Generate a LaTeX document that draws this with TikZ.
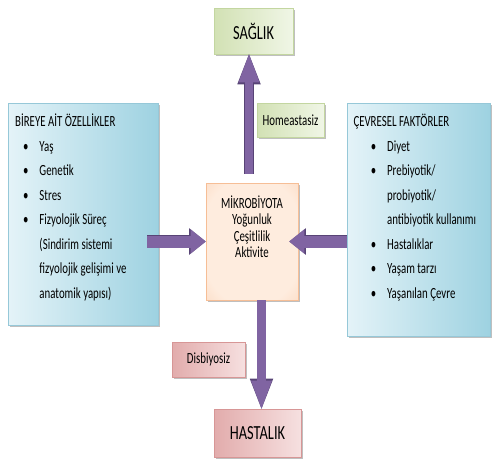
\documentclass[tikz,border=0pt]{standalone}
\usepackage{fontspec}
\setmainfont{Carlito}[FakeStretch=0.7]
\newfontfamily\bigfont{Carlito}[FakeStretch=0.72]
\usetikzlibrary{arrows.meta,shadows}

\definecolor{boxblue}{RGB}{158,210,225}
\definecolor{boxbluelight}{RGB}{228,243,248}
\definecolor{blueline}{RGB}{150,200,216}
\definecolor{boxorange}{RGB}{248,182,138}
\definecolor{boxorangelight}{RGB}{254,236,222}
\definecolor{orangeline}{RGB}{246,190,150}
\definecolor{boxgreen}{RGB}{210,225,180}
\definecolor{boxgreenlight}{RGB}{240,246,230}
\definecolor{greenline}{RGB}{195,214,160}
\definecolor{boxpink}{RGB}{226,172,172}
\definecolor{boxpinklight}{RGB}{246,224,224}
\definecolor{pinkline}{RGB}{215,150,150}
\definecolor{arrowfill}{RGB}{128,100,162}
\definecolor{arrowline}{RGB}{88,68,118}

\pgfdeclareradialshading{mikroshade}{\pgfpoint{0bp}{0bp}}{%
  color(0bp)=(boxorangelight); color(28bp)=(boxorangelight);
  color(62bp)=(boxorange); color(72bp)=(boxorange)}

% bullet with indent, continuation line
\newcommand{\itm}[1]{\hspace*{#1}\makebox[16.3pt][l]{\textbullet}}
\newcommand{\cnt}[1]{\hspace*{#1}}

\tikzset{
  panel/.style={draw, line width=0.6pt, inner sep=0pt,
    drop shadow={shadow xshift=1.5pt, shadow yshift=-2pt, fill=black, opacity=0.25}},
  bluebox/.style={panel, draw=blueline, left color=boxbluelight, right color=boxblue},
  orangebox/.style={panel, draw=orangeline, shading=mikroshade},
  greenbox/.style={panel, draw=greenline, left color=boxgreen, right color=boxgreenlight},
  pinkbox/.style={panel, draw=pinkline, left color=boxpink, right color=boxpinklight},
  listtext/.style={anchor=north west, align=left, inner sep=0pt, font=\fontsize{15.5}{24.5}\selectfont},
  label/.style={font=\fontsize{15.5}{16.5}\selectfont},
  biglabel/.style={font=\bigfont\fontsize{20}{22}\selectfont},
  harrow/.style={line width=12pt, draw=arrowfill,
    -{Triangle[length=15pt,width=24pt,line width=0pt]},
    preaction={draw=arrowline, line width=13.4pt, -{Triangle[length=16.5pt,width=26.5pt,line width=0pt]}}},
  varrow/.style={line width=8.5pt, draw=arrowfill,
    -{Triangle[length=28pt,width=21pt,line width=0pt]},
    preaction={draw=arrowline, line width=9.9pt, -{Triangle[length=30pt,width=23.5pt,line width=0pt]}}},
}

\begin{document}
\begin{tikzpicture}[x=1pt,y=-1pt]
\useasboundingbox (0,0) rectangle (493,463);

\node[greenbox, minimum width=79pt, minimum height=46pt] (saglik) at (253.5,31) {};
\node[biglabel] at (saglik) {SAĞLIK};
\node[greenbox, minimum width=67pt, minimum height=34pt] (homeo) at (290.5,120) {};
\node[label] at (homeo) {Homeastasiz};

\node[bluebox, minimum width=150pt, minimum height=222pt] (bireye) at (83,214) {};
\node[listtext] (bireyelist) at (15,109.4) {\strut BİREYE AİT ÖZELLİKLER\\
\itm{8pt}Yaş\\
\itm{8pt}Genetik\\
\itm{8pt}Stres\\
\itm{8pt}Fizyolojik Süreç\\
\cnt{24.3pt}(Sindirim sistemi\\
\cnt{24.3pt}fizyolojik gelişimi ve\\
\cnt{24.3pt}anatomik yapısı)};

\node[bluebox, minimum width=143pt, minimum height=233pt] (cevre) at (418.5,219.5) {};
\node[listtext] (cevrelist) at (353.3,109.4) {\strut ÇEVRESEL FAKTÖRLER\\
\itm{17.3pt}Diyet\\
\itm{17.3pt}Prebiyotik/\\
\cnt{33.6pt}probiyotik/\\
\cnt{33.6pt}antibiyotik kullanımı\\
\itm{17.3pt}Hastalıklar\\
\itm{17.3pt}Yaşam tarzı\\
\itm{17.3pt}Yaşanılan Çevre};

\node[orangebox, minimum width=92pt, minimum height=117pt] (mikro) at (252,241.5) {};
\node[label, align=center, anchor=north, inner sep=0pt] at (252,195.5) {\strut MİKROBİYOTA\\Yoğunluk\\Çeşitlilik\\Aktivite};

\node[pinkbox, minimum width=73pt, minimum height=35pt] (disbi) at (208.5,359.5) {};
\node[label] at (disbi) {Disbiyosiz};
\node[pinkbox, minimum width=87pt, minimum height=48pt] (hastalik) at (257.5,433) {};
\node[biglabel] at (hastalik) {HASTALIK};

\draw[varrow, shorten <=9pt] ([xshift=-3pt]mikro.north) -- ([xshift=-3pt]mikro.north |- saglik.south);
\draw[varrow] ([xshift=9.5pt]mikro.south) -- ([xshift=9.5pt]mikro.south |- hastalik.north);
\draw[harrow, shorten <=-11pt] (bireye.east |- mikro.west) -- (mikro.west);
\draw[harrow, shorten >=-9pt] (cevre.west |- mikro.east) -- (mikro.east);
\end{tikzpicture}
\end{document}
